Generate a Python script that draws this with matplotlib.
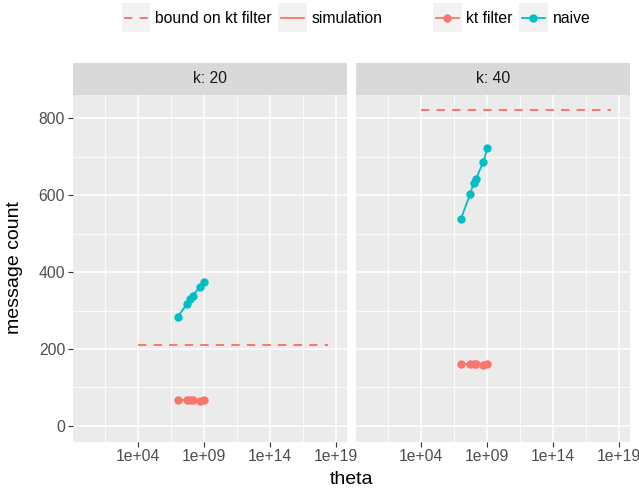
import matplotlib
matplotlib.use("Agg")
import matplotlib.pyplot as plt
from matplotlib.patches import Rectangle
from matplotlib.lines import Line2D
from matplotlib.ticker import FixedLocator, FuncFormatter, NullFormatter

plt.rcParams['font.family'] = ['Liberation Sans', 'DejaVu Sans']

# data
theta = [1e7, 5e7, 9e7, 1.4e8, 5e8, 1e9]
panels = ["k: 20", "k: 40"]
naive_k20 = [284, 316, 329, 339, 362, 374]
kt_k20 = [68, 67, 67, 67, 66, 67]
naive_k40 = [538, 603, 631, 643, 686, 722]
kt_k40 = [161, 160, 161, 160, 159, 161]
bound_theta = [1e4, 2.5e18]
bound_k20 = [211, 211]
bound_k40 = [820, 820]

x_ticks = [1e4, 1e9, 1e14, 1e19]
x_minor = [10 ** 1.5, 10 ** 6.5, 10 ** 11.5, 10 ** 16.5]
y_ticks = [0, 200, 400, 600, 800]
y_minor = [100, 300, 500, 700]

RED = "#F8766D"
CYAN = "#00BFC4"
W, H = 639, 491
SMALL = 11.3
BIG = 14

fig = plt.figure(figsize=(W / 100, H / 100), dpi=100)


def sci_label(v, pos):
    # ggplot style 1e+04
    return "%.0e" % v


def style_axis(ax, show_y):
    ax.set_facecolor("#EBEBEB")
    for s in ax.spines.values():
        s.set_visible(False)
    ax.set_xscale("log")
    ax.set_xlim(10 ** -0.95, 10 ** 19.81)
    ax.set_ylim(-41, 861)
    ax.xaxis.set_major_locator(FixedLocator(x_ticks))
    ax.xaxis.set_major_formatter(FuncFormatter(sci_label))
    ax.xaxis.set_minor_locator(FixedLocator(x_minor))
    ax.xaxis.set_minor_formatter(NullFormatter())
    ax.yaxis.set_major_locator(FixedLocator(y_ticks))
    ax.yaxis.set_minor_locator(FixedLocator(y_minor))
    ax.grid(which="major", color="white", linewidth=1.1)
    ax.grid(which="minor", color="white", linewidth=0.55)
    ax.set_axisbelow(True)
    ax.tick_params(which="major", length=3.4, width=0.8, color="#333333",
                   labelsize=SMALL, labelcolor="#4D4D4D", pad=2)
    ax.tick_params(which="minor", length=0)
    if not show_y:
        ax.tick_params(axis="y", which="both", left=False, labelleft=False)


def px_box(x0, y0, x1, y1):
    # pixel box (top-left origin) -> figure fraction rect
    return [x0 / W, 1 - y1 / H, (x1 - x0) / W, (y1 - y0) / H]


panel_x = [(72.7, 346.7), (356, 630)]
series = [(naive_k20, kt_k20, bound_k20), (naive_k40, kt_k40, bound_k40)]

for i, (x0, x1) in enumerate(panel_x):
    ax = fig.add_axes(px_box(x0, 94.7, x1, 441.7))
    style_axis(ax, i == 0)
    naive, kt, bound = series[i]
    ax.plot(bound_theta, bound, color=RED, linewidth=1.4,
            dashes=(4.3, 3.7), dash_capstyle="butt")
    ax.plot(theta, kt, color=RED, linewidth=1.3, marker="o",
            markersize=6, markeredgewidth=0)
    ax.plot(theta, naive, color=CYAN, linewidth=1.3, marker="o",
            markersize=6, markeredgewidth=0)

    # facet strip
    sax = fig.add_axes(px_box(x0, 62.7, x1, 94.7))
    sax.set_facecolor("#D9D9D9")
    sax.set_xticks([])
    sax.set_yticks([])
    for s in sax.spines.values():
        s.set_visible(False)
    sax.text(0.5, 0.5, panels[i], ha="center", va="center",
             fontsize=SMALL, color="#1A1A1A", transform=sax.transAxes)

# overlay in pixel coords for titles and legend
ov = fig.add_axes([0, 0, 1, 1])
ov.set_xlim(0, W)
ov.set_ylim(H, 0)
ov.axis("off")

ov.text(15, 268, "message count", rotation=90, ha="center", va="center",
        fontsize=BIG, color="black")
ov.text(351.4, 479, "theta", ha="center", va="center",
        fontsize=BIG, color="black")

# legend keys
keys = [
    (121.7, "bound on kt filter", RED, "dashed", False),
    (278, "simulation", RED, "solid", False),
    (433, "kt filter", RED, "solid", True),
    (519, "naive", CYAN, "solid", True),
]
for kx, label, col, ls, pt in keys:
    ov.add_patch(Rectangle((kx, 3.3), 28.7, 29, facecolor="#F2F2F2",
                           edgecolor="none"))
    if ls == "dashed":
        ov.add_line(Line2D([kx + 2.5, kx + 26.2], [17.8, 17.8], color=RED,
                           linewidth=1.4, dashes=(4.3, 3.7),
                           dash_capstyle="butt"))
    else:
        ov.add_line(Line2D([kx + 2.5, kx + 26.2], [17.8, 17.8], color=col,
                           linewidth=1.3))
    if pt:
        ov.add_line(Line2D([kx + 14.35], [17.8], color=col, marker="o",
                           markersize=6, markeredgewidth=0))
    ov.text(kx + 33.5, 18.5, label, ha="left", va="center",
            fontsize=SMALL, color="black")

fig.savefig("out.png", dpi=100)
